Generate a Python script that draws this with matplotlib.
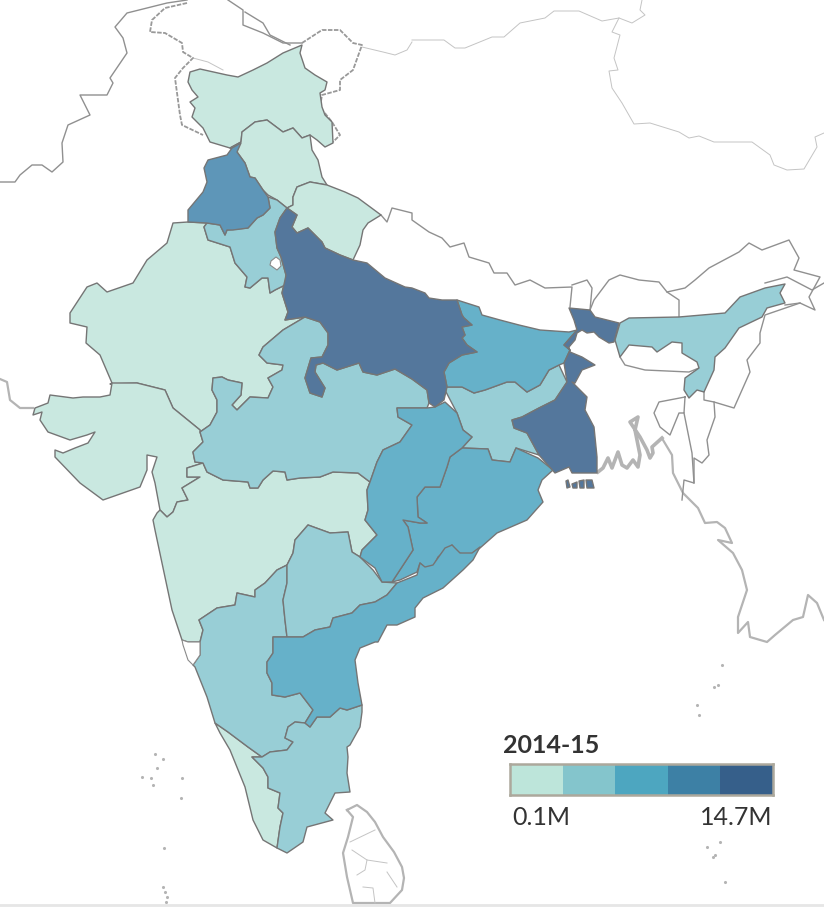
import matplotlib
matplotlib.use('Agg')
import matplotlib.pyplot as plt

# outlines, map x / y as on the source map
jammu_kashmir = [(302,45),(300,53),(305,68),(315,75),(327,82),(325,90),(320,93),(322,107),(325,115),(332,122),(333,143),(325,147),(317,140),(310,135),(302,138),(293,128),(283,132),(267,120),(255,122),(242,132),(241,142),(230,148),(210,142),(203,128),(192,117),(195,108),(190,102),(198,97),(192,90),(188,82),(190,72),(200,69),(227,75),(238,77),(253,70),(267,63),(283,53)]
himachal = [(242,132),(255,122),(267,120),(283,132),(293,128),(302,138),(310,135),(312,150),(318,160),(322,177),(327,185),(310,182),(297,187),(293,197),(293,205),(287,208),(277,200),(268,195),(263,190),(255,178),(250,177),(245,163),(237,152),(230,148),(241,142)]
uttarakhand = [(327,185),(345,192),(358,198),(381,215),(368,223),(363,230),(360,245),(353,260),(340,255),(325,248),(322,242),(308,228),(297,233),(292,227),(297,215),(287,208),(293,205),(293,197),(297,187),(310,182)]
punjab = [(241,143),(237,152),(245,163),(250,177),(255,178),(263,190),(268,197),(270,208),(263,215),(257,218),(248,228),(233,230),(227,230),(225,235),(220,225),(207,223),(188,222),(188,210),(203,192),(207,182),(204,168),(208,160),(227,155),(232,148)]
haryana = [(207,223),(220,225),(225,235),(227,230),(248,228),(257,218),(263,215),(270,208),(268,197),(277,200),(287,208),(280,218),(275,232),(277,248),(281,257),(286,275),(285,285),(275,290),(270,293),(268,278),(262,278),(250,288),(245,287),(247,277),(235,263),(230,247),(208,240),(204,227)]
delhi = [(271,261),(276,257),(280,260),(281,266),(277,270),(270,265)]
uttar_pradesh = [(287,208),(297,215),(292,227),(297,233),(308,228),(322,242),(325,248),(340,255),(353,260),(367,263),(385,278),(405,287),(412,288),(425,293),(429,298),(442,300),(457,300),(462,315),(464,318),(472,325),(462,327),(465,335),(462,338),(467,345),(477,352),(462,355),(449,363),(444,372),(447,387),(444,400),(435,407),(429,403),(427,390),(412,379),(395,369),(377,375),(363,372),(359,363),(337,370),(323,363),(316,365),(315,372),(325,388),(322,397),(310,393),(305,378),(308,368),(311,358),(322,357),(328,345),(328,333),(320,322),(305,317),(285,320),(288,312),(282,293),(285,280),(286,275),(281,257),(277,248),(275,232),(280,218)]
madhya_pradesh = [(305,317),(320,322),(328,333),(328,345),(322,357),(311,358),(308,368),(305,378),(310,393),(322,397),(325,388),(315,372),(316,365),(323,363),(337,370),(359,363),(363,372),(377,375),(395,369),(412,379),(427,390),(429,403),(427,408),(397,408),(398,417),(412,425),(400,442),(383,450),(377,462),(370,482),(358,473),(333,472),(320,477),(300,478),(287,480),(285,472),(273,471),(263,480),(258,488),(250,488),(248,482),(223,480),(207,472),(203,463),(195,462),(193,452),(203,442),(200,432),(210,425),(217,412),(217,400),(212,390),(213,378),(222,377),(228,380),(242,383),(241,395),(232,405),(237,410),(250,397),(268,398),(273,387),(268,378),(282,370),(283,365),(267,363),(259,355),(263,347),(283,330)]
rajasthan = [(188,222),(173,223),(167,243),(147,260),(133,283),(107,292),(97,283),(87,287),(70,313),(70,323),(87,327),(86,343),(100,355),(112,383),(110,384),(137,383),(165,390),(173,408),(200,430),(200,432),(210,425),(217,412),(217,400),(212,390),(213,378),(222,377),(228,380),(242,383),(241,395),(232,405),(237,410),(250,397),(268,398),(273,387),(268,378),(282,370),(283,365),(267,363),(259,355),(263,347),(283,330),(305,317),(285,320),(288,312),(282,293),(285,280),(286,275),(285,285),(275,290),(270,293),(268,278),(262,278),(250,288),(245,287),(247,277),(235,263),(230,247),(208,240),(204,227),(207,223)]
gujarat = [(112,383),(110,395),(100,397),(83,397),(73,398),(50,395),(48,403),(35,408),(33,415),(42,412),(40,420),(48,432),(70,440),(87,435),(95,432),(88,443),(75,448),(63,453),(55,450),(55,457),(80,483),(103,500),(140,487),(147,470),(147,455),(157,457),(152,472),(155,483),(160,510),(167,517),(173,512),(177,502),(188,500),(182,488),(200,477),(187,477),(187,468),(203,463),(195,462),(193,452),(203,442),(200,432),(200,430),(173,408),(165,390),(137,383)]
maharashtra = [(203,463),(207,472),(223,480),(248,482),(250,488),(258,488),(263,480),(273,471),(285,472),(287,480),(300,478),(320,477),(333,472),(358,473),(370,482),(367,490),(368,510),(365,520),(377,535),(362,550),(360,557),(352,552),(348,532),(330,533),(308,525),(295,540),(293,553),(287,565),(277,570),(265,583),(255,590),(255,597),(237,593),(235,605),(217,608),(199,620),(203,630),(200,642),(188,642),(182,640),(172,610),(162,563),(155,530),(153,520),(157,513),(160,510),(167,517),(173,512),(177,502),(188,500),(182,488),(200,477),(187,477),(187,468)]
goa = [(182,640),(188,642),(200,642),(200,655),(193,665),(188,660),(183,645)]
karnataka = [(199,620),(217,608),(235,605),(237,593),(255,597),(255,590),(265,583),(277,570),(287,565),(287,583),(283,600),(285,620),(287,637),(273,637),(273,653),(267,662),(267,673),(272,683),(272,695),(285,697),(300,693),(313,710),(305,723),(295,722),(288,727),(285,738),(293,742),(287,750),(270,752),(262,757),(248,747),(228,732),(215,723),(207,697),(195,667),(193,665),(200,655),(200,642),(203,630)]
telangana = [(308,525),(330,533),(348,532),(352,552),(360,557),(373,570),(382,582),(397,583),(387,595),(375,602),(360,605),(352,613),(333,618),(330,627),(315,630),(303,637),(287,637),(285,620),(283,600),(287,583),(287,565),(293,553),(295,540)]
andhra = [(397,583),(417,575),(420,563),(425,567),(433,565),(445,548),(452,545),(460,553),(472,553),(480,547),(473,560),(463,570),(443,588),(423,598),(415,608),(415,617),(397,625),(387,625),(378,642),(375,642),(360,648),(355,660),(358,683),(362,705),(347,710),(340,708),(330,717),(317,717),(310,727),(305,723),(313,710),(300,693),(285,697),(272,695),(272,683),(267,673),(267,662),(273,653),(273,637),(287,637),(303,637),(315,630),(330,627),(333,618),(352,613),(360,605),(375,602),(387,595)]
tamil_nadu = [(305,723),(310,727),(317,717),(330,717),(340,708),(347,710),(362,705),(362,712),(360,727),(350,745),(347,747),(348,757),(347,773),(350,792),(335,793),(325,813),(333,820),(307,827),(303,842),(287,853),(277,848),(280,827),(283,813),(278,808),(280,793),(268,788),(268,777),(263,768),(252,757),(262,757),(270,752),(287,750),(293,742),(285,738),(288,727),(295,722)]
kerala = [(215,723),(228,732),(248,747),(262,757),(252,757),(263,768),(268,777),(268,788),(280,793),(278,808),(283,813),(280,827),(277,848),(263,840),(253,820),(245,787),(230,750),(220,733)]
odisha = [(462,448),(488,449),(492,460),(510,462),(516,448),(538,458),(553,470),(542,480),(538,490),(543,502),(527,520),(497,533),(480,548),(470,555),(458,553),(452,545),(438,557),(433,567),(425,568),(420,563),(417,572),(400,580),(392,582),(413,550),(408,527),(403,520),(420,523),(427,523),(418,517),(417,497),(425,487),(440,487),(447,467),(450,457)]
chhattisgarh = [(397,408),(427,408),(435,407),(445,402),(457,413),(463,430),(472,437),(462,448),(450,457),(447,467),(440,487),(425,487),(417,497),(418,517),(427,523),(420,523),(403,520),(408,527),(413,550),(392,582),(382,582),(375,568),(360,557),(362,550),(377,535),(365,520),(368,510),(367,490),(370,482),(377,462),(383,450),(400,442),(412,425),(398,417)]
jharkhand = [(445,390),(447,387),(462,387),(474,393),(485,390),(507,382),(515,382),(527,392),(540,385),(549,370),(559,365),(567,382),(555,400),(539,408),(522,417),(512,420),(514,428),(527,433),(539,455),(516,448),(510,462),(492,460),(488,449),(462,448),(472,437),(463,430),(457,413)]
bihar = [(457,300),(479,307),(482,315),(500,320),(519,325),(540,330),(569,332),(577,330),(564,345),(570,350),(564,363),(559,365),(549,370),(540,385),(527,392),(515,382),(507,382),(485,390),(474,393),(462,387),(447,387),(444,372),(449,363),(462,355),(477,352),(467,345),(462,338),(465,335),(462,327),(472,325),(464,318),(462,315)]
west_bengal = [(569,308),(590,310),(595,317),(619,323),(614,342),(609,343),(599,337),(594,332),(587,333),(582,330),(577,333),(575,340),(569,347),(570,352),(582,357),(595,365),(582,370),(575,383),(572,382),(587,397),(585,410),(594,427),(597,457),(597,473),(572,473),(569,467),(555,473),(539,455),(527,433),(514,428),(512,420),(522,417),(539,408),(555,400),(567,382),(564,363),(570,350),(564,345),(577,330),(574,320)]
sundarbans_a = [(566,481),(568,480),(570,487),(567,488)]
sundarbans_b = [(572,484),(577,482),(577,488),(573,488)]
sundarbans_c = [(579,481),(584,480),(584,488),(580,488)]
sundarbans_d = [(586,480),(592,480),(594,488),(587,488)]
assam = [(620,323),(629,318),(679,317),(702,315),(725,313),(740,297),(765,288),(785,284),(780,293),(785,303),(767,308),(762,317),(739,328),(725,348),(715,357),(714,370),(704,392),(697,390),(689,398),(684,390),(685,378),(699,368),(697,362),(682,353),(682,343),(672,342),(657,352),(652,347),(629,345),(620,357),(615,340)]

# grey borders of everything that is not coloured
pak_border = [(0,182),(15,182),(20,175),(32,165),(42,165),(52,172),(63,162),(62,143),(68,125),(90,115),(80,95),(107,95),(113,83),(110,78),(127,53),(123,38),(115,27),(127,13),(167,3),(187,0)]
loc_dashed = [(187,3),(165,8),(152,20),(150,32),(165,33),(182,43),(183,52),(193,58),(183,68),(175,78),(180,115),(182,125),(203,135)]
ne_dashed = [(302,43),(322,30),(340,30),(353,43),(362,45),(353,70),(340,80),(340,90),(322,95),(320,107),(332,122),(340,135),(333,142)]
north_a = [(228,0),(243,10),(243,25),(263,33),(283,43),(302,43)]
north_b = [(245,12),(263,23),(270,35),(290,45)]
nepal_top = [(381,215),(387,222),(392,208),(412,213),(412,220),(429,232),(442,238),(450,247),(464,243),(469,257),(489,263),(494,273),(507,273),(515,285),(530,280),(545,288),(572,287),(570,307)]
sikkim = [(572,285),(587,280),(592,288),(590,310)]
bhutan = [(590,310),(594,300),(609,280),(620,275),(639,280),(659,282),(667,292),(679,300),(679,317)]
arunachal = [(667,292),(685,288),(695,280),(709,268),(739,252),(749,243),(762,250),(789,240),(799,258),(794,270),(820,277),(809,297),(815,310),(800,303),(785,305)]
arunachal_b = [(765,283),(787,277),(812,290),(824,283)]
nagaland = [(800,303),(765,315),(760,333),(760,343),(747,360),(750,372),(734,408),(714,402),(704,400),(704,392)]
mizoram = [(714,402),(715,417),(707,440),(709,455),(702,463),(694,458),(694,483),(684,480),(682,500)]
tripura = [(685,397),(684,413),(679,413),(670,435),(660,427),(654,413),(659,402),(685,397)]
tripura_b = [(684,413),(692,453),(694,483)]
meghalaya = [(620,357),(625,365),(645,370),(689,372),(699,368)]
border_lines = [pak_border, north_a, north_b, nepal_top, sikkim, bhutan, arunachal, arunachal_b, nagaland, mizoram, tripura, tripura_b, meghalaya]
dashed_lines = [loc_dashed, ne_dashed]

china_a = [(412,40),(444,40),(455,48),(465,48),(492,37),(504,37),(520,23),(545,18),(554,11),(579,11),(602,21),(619,18),(632,23),(645,15),(640,10),(642,0)]
china_b = [(619,18),(612,32),(620,35),(614,58),(618,70),(609,71),(612,88),(622,103),(634,124),(650,123),(679,132),(689,138),(699,136),(714,142),(752,142),(770,155),(774,165),(787,170),(804,169),(817,147),(815,137),(824,133)]
china_c = [(362,47),(383,52),(395,55),(407,50),(412,42)]
china_d = [(193,58),(208,62),(223,70)]
thin_lines = [china_a, china_b, china_c, china_d]

# coasts, drawn thick and pale
sind_coast = [(0,379),(7,382),(10,400),(20,408),(33,408)]
bangla_coast = [(598,472),(603,468),(608,458),(612,468),(618,452),(622,465),(627,468),(633,460),(638,467),(640,455),(635,430),(638,417),(630,422),(640,437),(647,450),(650,458),(653,453),(652,447),(662,438)]
myanmar_coast = [(663,440),(672,455),(673,473),(683,493),(698,508),(705,523),(717,522),(725,528),(732,543),(718,540),(733,553),(742,570),(747,590),(738,617),(738,633),(748,622),(750,637),(767,642),(775,635),(793,620),(803,617),(808,595),(817,603),(824,620)]
sri_lanka = [(347,810),(357,805),(367,812),(375,822),(383,837),(394,852),(402,867),(404,878),(402,890),(390,903),(353,903),(347,877),(343,853),(348,837),(353,817),(347,810)]
coast_lines = [sind_coast, myanmar_coast, sri_lanka]
lanka_a = [(350,842),(375,830)]
lanka_b = [(352,850),(367,860),(387,863)]
lanka_c = [(367,860),(365,870),(357,875)]
lanka_d = [(363,887),(373,888),(375,903)]
lanka_e = [(387,872),(397,887)]
lanka_lines = [lanka_a, lanka_b, lanka_c, lanka_d, lanka_e]
island_x = [155,163,157,142,151,153,182,181,164,163,165,167,166,707,720,715,713,725,722,714,697,699,718]
island_y = [754,759,768,777,778,785,778,798,848,887,892,897,902,847,842,855,857,882,665,687,705,715,685]

# state -> colour bin
states = [jammu_kashmir, himachal, uttarakhand, rajasthan, gujarat, maharashtra, kerala, haryana, madhya_pradesh, karnataka, telangana, tamil_nadu, jharkhand, assam, bihar, odisha, chhattisgarh, andhra, punjab, uttar_pradesh, west_bengal, sundarbans_a, sundarbans_b, sundarbans_c, sundarbans_d]
state_bins = [0, 0, 0, 0, 0, 0, 0, 1, 1, 1, 1, 1, 1, 1, 2, 2, 2, 2, 3, 4, 4, 4, 4, 4, 4]
map_colors = ['#c9e8e0', '#98ced6', '#66b1c9', '#5e96b8', '#54779c']
legend_colors = ['#bde5da', '#84c5cc', '#4da6c0', '#3d80a5', '#365f8a']
legend_title = '2014-15'
legend_min = '0.1M'
legend_max = '14.7M'

plt.rcParams['font.family'] = ['Lato', 'DejaVu Sans']

fig = plt.figure(figsize=(8.24, 9.07), dpi=100)
ax = fig.add_axes([0, 0, 1, 1])
ax.set_xlim(0, 824)
ax.set_ylim(907, 0)
ax.axis('off')

for line in coast_lines:
    ax.plot(*zip(*line), color='#b4b4b4', lw=1.6, solid_joinstyle='round', zorder=1)
ax.plot(*zip(*bangla_coast), color='#b4b4b4', lw=2.6, solid_joinstyle='round', zorder=1)
for line in thin_lines + lanka_lines:
    ax.plot(*zip(*line), color='#c4c4c4', lw=0.7, solid_joinstyle='round', zorder=1)
for line in border_lines:
    ax.plot(*zip(*line), color='#909090', lw=1.0, solid_joinstyle='round', zorder=1)
for line in dashed_lines:
    ax.plot(*zip(*line), color='#999999', lw=1.3, ls=(0, (2.5, 0.8)), zorder=1)
ax.scatter(island_x, island_y, s=5, color='#b4b4b4', lw=0, zorder=1)

for outline, b in zip(states, state_bins):
    ax.fill(*zip(*outline), facecolor=map_colors[b], edgecolor='#757575', lw=1.0, joinstyle='round', zorder=2)
for outline in [delhi, goa]:
    ax.fill(*zip(*outline), facecolor='white', edgecolor='#8a8a8a', lw=0.8, zorder=3)

ax.axhline(905, color='#e6e6e6', lw=2, zorder=1)

# legend strip
lax = fig.add_axes([510 / 824, 1 - 795 / 907, 263 / 824, 31 / 907])
lax.bar(range(len(legend_colors)), [1] * len(legend_colors), width=1, color=legend_colors)
lax.set_xlim(-0.5, len(legend_colors) - 0.5)
lax.set_ylim(0, 1)
lax.set_xticks([])
lax.set_yticks([])
for s in lax.spines.values():
    s.set_color('#aca89c')
    s.set_linewidth(1.8)

ax.text(503, 753, legend_title, fontsize=18, fontweight='bold', color='#333333', va='baseline', zorder=5)
ax.text(512, 825, legend_min, fontsize=18, color='#333333', va='baseline', zorder=5)
ax.text(772, 825, legend_max, fontsize=18, color='#333333', va='baseline', ha='right', zorder=5)

fig.savefig('out.png', dpi=100)
